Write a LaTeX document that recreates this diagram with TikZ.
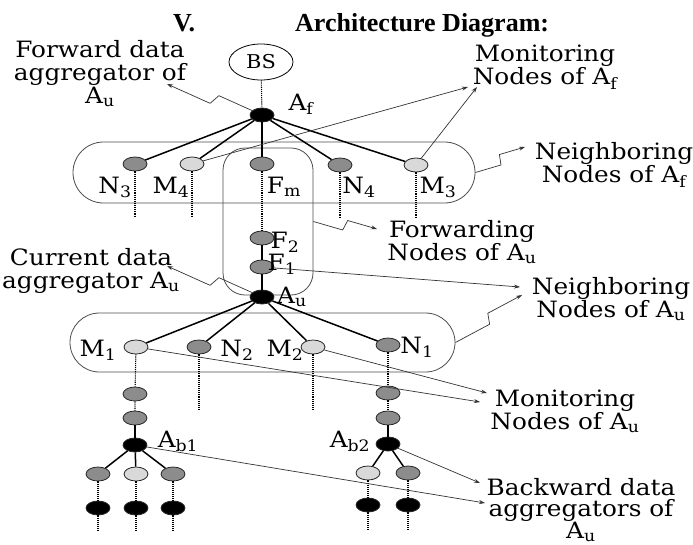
\documentclass[tikz,border=0pt]{standalone}
\usepackage{fontspec}
\setmainfont{DejaVu Serif}[FakeStretch=1.1]
\newfontfamily\titelfont{Liberation Serif}
\usetikzlibrary{shapes.geometric,shapes.misc,calc,arrows.meta}

\tikzset{
  knoten/.style={ellipse,draw=black!85,line width=0.8pt,minimum width=24pt,minimum height=14pt,inner sep=0pt},
  grau/.style={knoten,fill=black!45},
  hell/.style={knoten,fill=black!15},
  agg/.style={knoten,fill=black},
  kante/.style={line width=1.5pt},
  punkt/.style={densely dotted,line width=1.1pt},
  duenn/.style={line width=0.7pt,black!80,-{Stealth[length=6pt,width=4pt]}},
  blitz/.style={to path={-- ($(\tikztostart)!0.47!(\tikztotarget)!5pt!-90:(\tikztotarget)$)
      -- ($(\tikztostart)!0.53!(\tikztotarget)!5pt!90:(\tikztotarget)$) -- (\tikztotarget)}},
  huelle/.style={draw=black!70,line width=0.8pt,inner sep=0pt},
  lbl/.style={anchor=base,inner sep=0pt},
  txt/.style={anchor=north,align=center,inner sep=0pt},
}

\begin{document}
\begin{tikzpicture}[x=1pt,y=-1pt,font=\fontsize{22.5}{23}\selectfont]
  \useasboundingbox (0,0) rectangle (693,544);
  % Ueberschrift
  \node[anchor=base west,inner sep=0pt,font=\titelfont\bfseries\fontsize{26}{28}\selectfont] (tV) at (173,31) {V.};
  \node[anchor=base west,inner sep=0pt,font=\titelfont\bfseries\fontsize{26}{28}\selectfont] (tArch) at (295,31) {Architecture Diagram:};
  % Huellen der Nachbarschaften
  \node[huelle,rounded rectangle,minimum width=402pt,minimum height=61pt] (nbf) at (274,172.5) {};
  \node[huelle,rounded corners=22pt,minimum width=90pt,minimum height=147pt] (fwd) at (268,221.5) {};
  \node[huelle,rounded rectangle,minimum width=385pt,minimum height=59pt] (nbu) at (262.5,342.5) {};
  % Basisstation und Knoten
  \node[ellipse,draw,line width=0.8pt,minimum width=64pt,minimum height=36pt,inner sep=0pt,font=\fontsize{19}{20}\selectfont] (BS) at (261,62) {BS};
  \node[agg] (Af) at (262,115) {};
  \node[grau] (N3) at (135,164) {};
  \node[hell] (M4) at (192,164) {};
  \node[grau] (Fm) at (262,164) {};
  \node[grau] (N4) at (340,165) {};
  \node[hell] (M3) at (416,165) {};
  \node[grau] (F2) at (262,238) {};
  \node[grau] (F1) at (262,267) {};
  \node[agg] (Au) at (262,297) {};
  \node[hell] (M1) at (136,347) {};
  \node[grau] (N2) at (199,347) {};
  \node[hell] (M2) at (313,347) {};
  \node[grau] (N1) at (388,345) {};
  \node[grau] (M1a) at (135,394) {};
  \node[grau] (M1b) at (135,418) {};
  \node[agg] (Ab1) at (135,445) {};
  \node[grau] (N1a) at (388,393) {};
  \node[grau] (N1b) at (388,418) {};
  \node[agg] (Ab2) at (388,444) {};
  \foreach \n/\x/\farbe in {b1a/98/grau, b1b/136/hell, b1c/173/grau}
   {\node[\farbe] (\n) at (\x,474) {};
    \node[agg] (\n-s) at (\x,508) {};}
  \foreach \n/\x/\farbe in {b2a/368/hell, b2b/408/grau}
   {\node[\farbe] (\n) at (\x,473) {};
    \node[agg] (\n-s) at (\x,505) {};}
  % Kanten
  \draw[punkt] (BS) -- (Af);
  \foreach \n in {N3,M4,Fm,N4,M3}
   \draw[kante] (Af) -- (\n);
  \foreach \n in {N3,M4,N4,M3}
   \draw[punkt] (\n) -- ++(0,53) coordinate (\n-e);
  \draw[punkt] (Fm) -- (F2);
  \draw[kante] (F2) -- (F1) -- (Au);
  \foreach \n in {M1,N2,M2,N1}
   \draw[kante] (Au) -- (\n);
  \foreach \n in {N2,M2}
   \draw[punkt] (\n) -- ++(0,63) coordinate (\n-e);
  \draw[punkt] (M1) -- (M1a) -- (M1b);
  \draw[kante] (M1b) -- (Ab1);
  \draw[punkt] (N1) -- (N1a) -- (N1b);
  \draw[kante] (N1b) -- (Ab2);
  \foreach \n in {b1a,b1b,b1c}
   {\draw[kante] (Ab1) -- (\n);
    \draw[punkt] (\n) -- (\n-s) -- ++(0,24) coordinate (\n-e);}
  \foreach \n in {b2a,b2b}
   {\draw[kante] (Ab2) -- (\n);
    \draw[punkt] (\n) -- (\n-s) -- ++(0,25) coordinate (\n-e);}
  % Knotennamen
  \node[lbl] (lAf) at (301,110) {A\textsubscript{f}};
  \node[lbl] (lN3) at (115,193) {N\textsubscript{3}};
  \node[lbl] (lM4) at (171,193) {M\textsubscript{4}};
  \node[lbl] (lFm) at (284,193) {F\textsubscript{m}};
  \node[lbl] (lN4) at (359,193) {N\textsubscript{4}};
  \node[lbl] (lM3) at (438,193) {M\textsubscript{3}};
  \node[lbl] (lF2) at (285,248) {F\textsubscript{2}};
  \node[lbl] (lF1) at (282,270) {F\textsubscript{1}};
  \node[lbl] (lAu) at (292,303) {A\textsubscript{u}};
  \node[lbl] (lM1) at (98,356) {M\textsubscript{1}};
  \node[lbl] (lN2) at (237,356) {N\textsubscript{2}};
  \node[lbl] (lM2) at (285,356) {M\textsubscript{2}};
  \node[lbl] (lN1) at (417,353) {N\textsubscript{1}};
  \node[lbl] (lAb1) at (178,447) {A\textsubscript{b1}};
  \node[lbl] (lAb2) at (350,447) {A\textsubscript{b2}};
  % Beschriftungen
  \node[txt] (tFwd) at (100,40) {Forward data\\aggregator of\\A\textsubscript{u}};
  \node[txt] (tMonf) at (545,45) {Monitoring\\Nodes of A\textsubscript{f}};
  \node[txt] (tNbf) at (614,142) {Neighboring\\Nodes of A\textsubscript{f}};
  \node[txt] (tFw) at (462,220) {Forwarding\\Nodes of A\textsubscript{u}};
  \node[txt] (tCur) at (91,248) {Current data\\aggregator A\textsubscript{u}};
  \node[txt] (tNbu) at (611,277) {Neighboring\\Nodes of A\textsubscript{u}};
  \node[txt] (tMonu) at (565,390) {Monitoring\\Nodes of A\textsubscript{u}};
  \node[txt,font=\fontsize{22.5}{21.5}\selectfont] (tBw) at (581,478) {Backward data\\aggregators of\\A\textsubscript{u}};
  % Pfeilspitzen
  \coordinate (pFwd) at (167,84);
  \coordinate (pMf1) at (468,87);
  \coordinate (pMf2) at (477,87);
  \coordinate (pNbf) at (525,147);
  \coordinate (pFw) at (377,229);
  \coordinate (pCur) at (167,266);
  \coordinate (pNbu1) at (520,287);
  \coordinate (pNbu2) at (522,295);
  \coordinate (pMu1) at (487,393);
  \coordinate (pMu2) at (480,402);
  \coordinate (pBw1) at (480,483);
  \coordinate (pBw2) at (485,503);
  % Pfeile
  \draw[duenn] (Af) to[blitz] (pFwd);
  \draw[duenn] (M4) -- (pMf1);
  \draw[duenn] (M3) -- (pMf2);
  \draw[duenn] (nbf.east) to[blitz] (pNbf);
  \draw[duenn] (fwd.east) to[blitz] (pFw);
  \draw[duenn] (Au) to[blitz] (pCur);
  \draw[duenn] (F1) -- (pNbu1);
  \draw[duenn] (nbu.east) to[blitz] (pNbu2);
  \draw[duenn] (M2) -- (pMu1);
  \draw[duenn] (M1) -- (pMu2);
  \draw[duenn] (Ab2) -- (pBw1);
  \draw[duenn] (Ab1) -- (pBw2);
\end{tikzpicture}
\end{document}
